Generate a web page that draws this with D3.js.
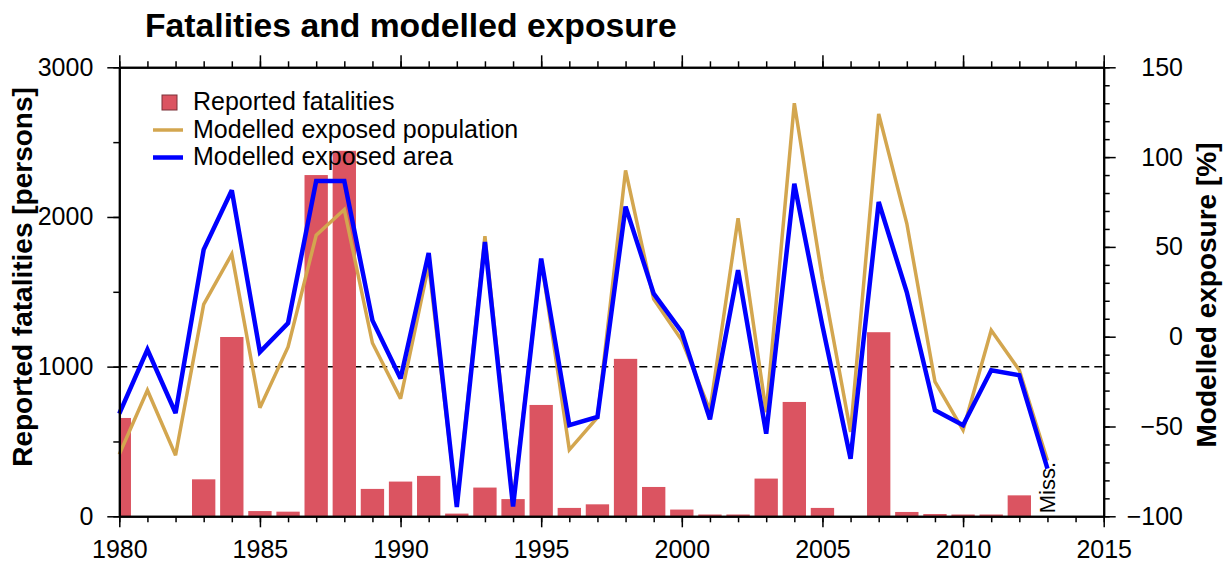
<!DOCTYPE html>
<html>
<head>
<meta charset="utf-8">
<script src="https://cdn.jsdelivr.net/npm/d3@7"></script>
<style>
  body { margin: 0; background: #fff; }
  svg { font-family: "Liberation Sans", Arial, Helvetica, sans-serif; }
</style>
</head>
<body>
<svg></svg>
<script>
'use strict';

// Data
var years = [1980, 1981, 1982, 1983, 1984, 1985, 1986, 1987, 1988, 1989,
  1990, 1991, 1992, 1993, 1994, 1995, 1996, 1997, 1998, 1999,
  2000, 2001, 2002, 2003, 2004, 2005, 2006, 2007, 2008, 2009,
  2010, 2011, 2012, 2013];
// reported fatalities [persons], 2013 missing
var fatalities = [657, 0, 0, 247, 1198, 35, 31, 2280, 2442, 183,
  232, 270, 18, 192, 115, 744, 56, 80, 1052, 196,
  45, 12, 12, 252, 764, 56, 0, 1230, 29, 15,
  12, 12, 140, null];
// modelled exposed population [%]
var exposedPopulation = [-65.5, -29.8, -66, 18, 46, -39.5, -5.7, 56.5, 70.8, -3.5,
  -34.5, 40, -94, 56, -92, 43, -63, -45, 92.6, 21,
  -2, -41, 66, -42, 130, 32, -53, 124, 63, -25,
  -52, 3.6, -18.7, -69];
// modelled exposed area [%]
var exposedArea = [-42.8, -7.2, -42.5, 48.5, 81.5, -8.5, 7.6, 86.7, 86.7, 9.1,
  -23.3, 46.6, -94.8, 52.7, -94.5, 43.5, -49.3, -44.7, 72.4, 24,
  2.6, -46, 37, -54, 85.2, 6, -68, 75, 24.7, -41,
  -49.3, -18.7, -21.5, -73.4];
var missingLabel = 'Miss.';
var xTicks = [1980, 1985, 1990, 1995, 2000, 2005, 2010, 2015];
var leftTicks = [0, 1000, 2000, 3000];
var rightTicks = [-100, -50, 0, 50, 100, 150];
var referenceLevel = 1000;

// Setting up the chart area
var margin = { top: 67.3, right: 125.3, bottom: 48.7, left: 119.3 };
var canvasWidth = 1229;
var canvasHeight = 565;
var width = canvasWidth - margin.left - margin.right;
var height = canvasHeight - margin.top - margin.bottom;

var svg = d3.select('svg')
  .attr('width', canvasWidth)
  .attr('height', canvasHeight);

var graphArea = svg.append('g')
  .attr('transform', 'translate(' + margin.left + ',' + margin.top + ')');

var xScale = d3.scaleLinear().domain([1980, 2015]).range([0, width]);
var yLeft = d3.scaleLinear().domain([0, 3000]).range([height, 0]);
var yRight = d3.scaleLinear().domain([-100, 150]).range([height, 0]);

var barColor = '#db5461';
var popColor = '#d3a64f';
var areaColor = '#0000ff';

// clip so the 1980 bar is cut at the axis
svg.append('defs').append('clipPath')
  .attr('id', 'plotClip')
  .append('rect')
  .attr('width', width)
  .attr('height', height);

// dashed reference line (behind bars)
graphArea.append('line')
  .attr('x1', 0)
  .attr('x2', width)
  .attr('y1', yLeft(referenceLevel))
  .attr('y2', yLeft(referenceLevel))
  .attr('stroke', '#000')
  .attr('stroke-width', 1.5)
  .attr('stroke-dasharray', '8,5');

// Bars
var barHalf = 0.415;
var barData = years.map(function(y, i) { return { year: y, value: fatalities[i] }; })
  .filter(function(d) { return d.value !== null; });

graphArea.append('g')
  .attr('clip-path', 'url(#plotClip)')
  .selectAll('.bar')
  .data(barData)
  .enter().append('rect')
  .attr('class', 'bar')
  .attr('x', function(d) { return xScale(d.year - barHalf); })
  .attr('width', function(d) { return xScale(d.year + barHalf) - xScale(d.year - barHalf); })
  .attr('y', function(d) { return yLeft(d.value); })
  .attr('height', function(d) { return height - yLeft(d.value); })
  .attr('fill', barColor);

// Lines
function drawLine(values, color, w) {
  var line = d3.line()
    .x(function(d, i) { return xScale(years[i]); })
    .y(function(d) { return yRight(d); });
  graphArea.append('path')
    .datum(values)
    .attr('d', line)
    .attr('fill', 'none')
    .attr('stroke', color)
    .attr('stroke-width', w)
    .attr('stroke-linejoin', 'miter')
    .attr('stroke-miterlimit', 3);
}
drawLine(exposedPopulation, popColor, 3.5);
drawLine(exposedArea, areaColor, 4.5);

// Axes
function styleAxis(g) {
  g.select('.domain').attr('stroke-width', 2);
  g.selectAll('.tick line').attr('stroke-width', 1.5);
  g.selectAll('text').style('font-size', '25px').attr('fill', '#000');
}

var yearsAll = d3.range(1980, 2016);

// bottom
graphArea.append('g')
  .attr('transform', 'translate(0,' + height + ')')
  .call(d3.axisBottom(xScale).tickValues(yearsAll).tickSize(6).tickSizeOuter(0).tickFormat(''))
  .call(styleAxis);
graphArea.append('g')
  .attr('transform', 'translate(0,' + height + ')')
  .call(d3.axisBottom(xScale).tickValues(xTicks).tickSize(11).tickSizeOuter(0)
    .tickPadding(13).tickFormat(d3.format('d')))
  .call(styleAxis);

// top
graphArea.append('g')
  .call(d3.axisTop(xScale).tickValues(yearsAll).tickSize(6).tickSizeOuter(0).tickFormat(''))
  .call(styleAxis);
graphArea.append('g')
  .call(d3.axisTop(xScale).tickValues(xTicks).tickSize(12).tickSizeOuter(0).tickFormat(''))
  .call(styleAxis);

// left
graphArea.append('g')
  .call(d3.axisLeft(yLeft).tickValues(d3.range(0, 3001, 500)).tickSize(6).tickSizeOuter(0).tickFormat(''))
  .call(styleAxis);
graphArea.append('g')
  .call(d3.axisLeft(yLeft).tickValues(leftTicks).tickSize(12).tickSizeOuter(0)
    .tickPadding(14).tickFormat(d3.format('d')))
  .call(styleAxis);

// right
graphArea.append('g')
  .attr('transform', 'translate(' + width + ',0)')
  .call(d3.axisRight(yRight).tickValues(d3.range(-100, 151, 10)).tickSize(6).tickSizeOuter(0).tickFormat(''))
  .call(styleAxis);
var rightAxis = graphArea.append('g')
  .attr('transform', 'translate(' + width + ',0)')
  .call(d3.axisRight(yRight).tickValues(rightTicks).tickSize(12).tickSizeOuter(0)
    .tickFormat(function(d) { return d < 0 ? '\u2212' + Math.abs(d) : d; }))
  .call(styleAxis);
rightAxis.selectAll('text')
  .attr('x', 79.3)
  .style('text-anchor', 'end');

// Title
svg.append('text')
  .attr('x', 145)
  .attr('y', 37)
  .style('font-size', '33.7px')
  .style('font-weight', 'bold')
  .text('Fatalities and modelled exposure');

// Axis titles
svg.append('text')
  .attr('transform', 'translate(22,' + 277 + ') rotate(-90)')
  .attr('dy', '0.35em')
  .style('text-anchor', 'middle')
  .style('font-size', '28px')
  .style('font-weight', 'bold')
  .text('Reported fatalities [persons]');

svg.append('text')
  .attr('transform', 'translate(1206,' + 295 + ') rotate(-90)')
  .attr('dy', '0.35em')
  .style('text-anchor', 'middle')
  .style('font-size', '28px')
  .style('font-weight', 'bold')
  .text('Modelled exposure [%]');

// Missing-year note
graphArea.append('text')
  .attr('transform', 'translate(' + xScale(2013) + ',' + (height - 3) + ') rotate(-90)')
  .attr('dy', '0.35em')
  .style('font-size', '22px')
  .text(missingLabel);

// Legend
var legend = svg.append('g');
legend.append('rect')
  .attr('x', 162)
  .attr('y', 95)
  .attr('width', 15)
  .attr('height', 15)
  .attr('fill', barColor)
  .attr('stroke', '#7a3038')
  .attr('stroke-width', 1);
legend.append('line')
  .attr('x1', 153).attr('x2', 183)
  .attr('y1', 130).attr('y2', 130)
  .attr('stroke', popColor).attr('stroke-width', 3.5);
legend.append('line')
  .attr('x1', 153).attr('x2', 183)
  .attr('y1', 157.5).attr('y2', 157.5)
  .attr('stroke', areaColor).attr('stroke-width', 4.5);

var legendLabels = ['Reported fatalities', 'Modelled exposed population', 'Modelled exposed area'];
legend.selectAll('.legend-label')
  .data(legendLabels)
  .enter().append('text')
  .attr('class', 'legend-label')
  .attr('x', 193)
  .attr('y', function(d, i) { return 110 + i * 27.5; })
  .style('font-size', '25px')
  .text(function(d) { return d; });
</script>
</body>
</html>
